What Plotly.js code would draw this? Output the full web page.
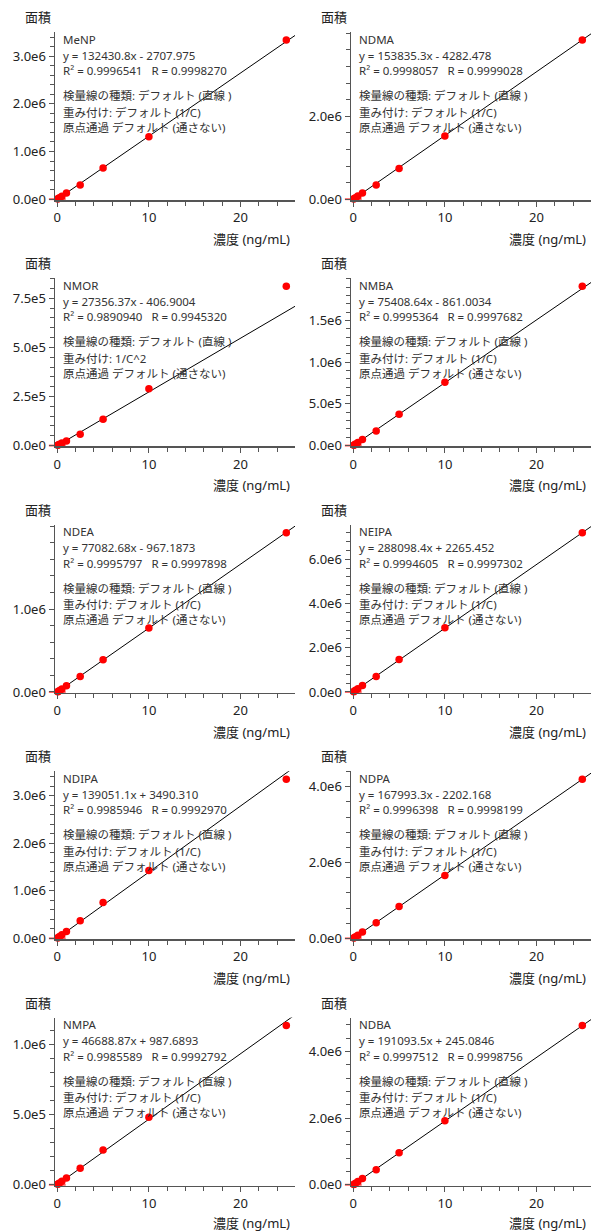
<!DOCTYPE html>
<html><head><meta charset="utf-8">
<script src="https://cdn.plot.ly/plotly-3.0.1.min.js"></script>
<style>body{margin:0;background:#fff}#chart{width:592px;height:1232px}</style>
</head><body><div id="chart"></div>
<script>
// ---- data ----
const conc = [0.05, 0.1, 0.25, 0.5, 1, 2.5, 5, 10, 25];
const compounds = ["MeNP","NDMA","NMOR","NMBA","NDEA","NEIPA","NDIPA","NDPA","NMPA","NDBA"];
const areaMeNP  = [5.5e3, 1.2e4, 3.1e4, 6.3e4, 1.28e5, 2.95e5, 6.53e5, 1.312e6, 3.34e6];
const areaNDMA  = [6.0e3, 1.4e4, 3.6e4, 7.4e4, 1.50e5, 3.39e5, 7.42e5, 1.524e6, 3.84e6];
const areaNMOR  = [1.2e3, 2.5e3, 6.5e3, 1.25e4, 2.3e4, 5.78e4, 1.34e5, 2.89e5, 8.11e5];
const areaNMBA  = [3.5e3, 7.0e3, 1.8e4, 3.6e4, 7.3e4, 1.75e5, 3.75e5, 7.60e5, 1.91e6];
const areaNDEA  = [3.5e3, 7.0e3, 1.8e4, 3.7e4, 7.5e4, 1.85e5, 3.90e5, 7.70e5, 1.92e6];
const areaNEIPA = [1.4e4, 2.9e4, 7.3e4, 1.45e5, 2.9e5, 7.0e5, 1.47e6, 2.90e6, 7.20e6];
const areaNDIPA = [1.0e4, 1.8e4, 3.9e4, 7.5e4, 1.45e5, 3.7e5, 7.53e5, 1.43e6, 3.35e6];
const areaNDPA  = [8.0e3, 1.6e4, 4.0e4, 8.2e4, 1.66e5, 4.1e5, 8.4e5, 1.66e6, 4.20e6];
const areaNMPA  = [3.0e3, 5.5e3, 1.3e4, 2.5e4, 4.9e4, 1.17e5, 2.48e5, 4.81e5, 1.136e6];
const areaNDBA  = [9.5e3, 1.9e4, 4.8e4, 9.6e4, 1.9e5, 4.5e5, 9.6e5, 1.92e6, 4.78e6];
const areas = [areaMeNP, areaNDMA, areaNMOR, areaNMBA, areaNDEA, areaNEIPA, areaNDIPA, areaNDPA, areaNMPA, areaNDBA];

const slopes     = [132430.8, 153835.3, 27356.37, 75408.64, 77082.68, 288098.4, 139051.1, 167993.3, 46688.87, 191093.5];
const intercepts = [-2707.975, -4282.478, -406.9004, -861.0034, -967.1873, 2265.452, 3490.310, -2202.168, 987.6893, 245.0846];
const equations  = ["y = 132430.8x - 2707.975","y = 153835.3x - 4282.478","y = 27356.37x - 406.9004","y = 75408.64x - 861.0034",
                    "y = 77082.68x - 967.1873","y = 288098.4x + 2265.452","y = 139051.1x + 3490.310","y = 167993.3x - 2202.168",
                    "y = 46688.87x + 987.6893","y = 191093.5x + 245.0846"];
const r2Values   = ["0.9996541","0.9998057","0.9890940","0.9995364","0.9995797","0.9994605","0.9985946","0.9996398","0.9985589","0.9997512"];
const rValues    = ["0.9998270","0.9999028","0.9945320","0.9997682","0.9997898","0.9997302","0.9992970","0.9998199","0.9992792","0.9998756"];
const weightings = ["デフォルト (1/C)","デフォルト (1/C)","1/C^2","デフォルト (1/C)","デフォルト (1/C)","デフォルト (1/C)","デフォルト (1/C)","デフォルト (1/C)","デフォルト (1/C)","デフォルト (1/C)"];
const curveType  = "検量線の種類: デフォルト (直線 )";
const originText = "原点通過 デフォルト (通さない)";

const yTickVals = [[0,1e6,2e6,3e6],[0,2e6],[0,2.5e5,5e5,7.5e5],[0,5e5,1e6,1.5e6],[0,1e6],
                   [0,2e6,4e6,6e6],[0,1e6,2e6,3e6],[0,2e6,4e6],[0,5e5,1e6],[0,2e6,4e6]];
const yTickText = [["0.0e0","1.0e6","2.0e6","3.0e6"],["0.0e0","2.0e6"],["0.0e0","2.5e5","5.0e5","7.5e5"],["0.0e0","5.0e5","1.0e6","1.5e6"],["0.0e0","1.0e6"],
                   ["0.0e0","2.0e6","4.0e6","6.0e6"],["0.0e0","1.0e6","2.0e6","3.0e6"],["0.0e0","2.0e6","4.0e6"],["0.0e0","5.0e5","1.0e6"],["0.0e0","2.0e6","4.0e6"]];
const xTickVals = [0, 10, 20];
const blankX = [0], blankY = [0];
const yTitle = "面積", xTitle = "濃度 (ng/mL)";

// ---- layout helpers ----
const W = 592, H = 1232;
const FONT = "Noto Sans, Noto Sans CJK JP, sans-serif";
const textColor = "#222", axisColor = "#555";
const colX = [[55, 295], [351, 591]];
const rowH = 246.4, plotTop = 32, plotBot = 200;
const xMax = 25.95, xMin = -0.25;

const traces = [];
const layout = {width: W, height: H, margin: {l:0, r:0, t:0, b:0}, showlegend: false,
  paper_bgcolor: "#fff", plot_bgcolor: "#fff", annotations: []};

compounds.forEach((name, i) => {
  const s = i === 0 ? "" : String(i + 1);
  const row = Math.floor(i / 2), col = i % 2;
  const xd = [colX[col][0] / W, colX[col][1] / W];
  const yd = [1 - (row * rowH + plotBot) / H, 1 - (row * rowH + plotTop) / H];
  const yMaxData = Math.max(...areas[i]);
  const yTop = yMaxData * 1.05;
  const yLow = -yTop * 0.005;
  const major = yTickVals[i][1];

  traces.push({x: [0, xMax + 1], y: [intercepts[i], slopes[i] * (xMax + 1) + intercepts[i]],
    xaxis: "x" + s, yaxis: "y" + s, mode: "lines", line: {color: "#000", width: 1}, hoverinfo: "skip"});
  traces.push({x: blankX, y: blankY, xaxis: "x" + s, yaxis: "y" + s, mode: "markers", cliponaxis: false,
    marker: {symbol: "line-ew", size: 12, line: {color: "rgba(255,60,60,0.8)", width: 2}}});
  traces.push({x: conc, y: areas[i], xaxis: "x" + s, yaxis: "y" + s, mode: "markers", cliponaxis: false,
    marker: {color: "#ff0000", size: 7.5}});

  const common = {showline: true, linecolor: axisColor, linewidth: 1.5, showgrid: false, zeroline: false,
    ticks: "outside", ticklen: 5, tickwidth: 1, tickcolor: axisColor,
    tickfont: {family: FONT, size: 13, color: textColor}};
  layout["xaxis" + s] = Object.assign({}, common, {domain: xd, anchor: "y" + s, range: [xMin, xMax],
    tickmode: "array", tickvals: xTickVals, ticktext: xTickVals.map(String),
    minor: {dtick: 2, tick0: 0, ticks: "outside", ticklen: 4, tickcolor: axisColor}});
  layout["yaxis" + s] = Object.assign({}, common, {domain: yd, anchor: "x" + s, range: [yLow, yTop],
    tickmode: "array", tickvals: yTickVals[i], ticktext: yTickText[i],
    minor: {dtick: major / 5, tick0: 0, ticks: "outside", ticklen: 3.5, tickcolor: axisColor}});

  const xr = "x" + s + " domain", yr = "y" + s + " domain";
  layout.annotations.push({xref: xr, yref: yr, x: 0, y: 1, xanchor: "right", yanchor: "middle",
    xshift: -2, yshift: 15, showarrow: false, text: yTitle, font: {family: FONT, size: 13, color: textColor}});
  layout.annotations.push({xref: xr, yref: yr, x: 1, y: 0, xanchor: "right", yanchor: "middle",
    xshift: -3, yshift: row === 4 ? -37 : -39, showarrow: false, text: xTitle, font: {family: FONT, size: 13, color: textColor}});

  const lines = [name, equations[i], "R² = " + r2Values[i] + "\u00a0\u00a0\u00a0R = " + rValues[i],
                 curveType, "重み付け: " + weightings[i], originText];
  const offs = [7, 23, 38.5, 63.5, 80, 95];
  lines.forEach((t, k) => {
    layout.annotations.push({xref: xr, yref: yr, x: 0, y: 1, xanchor: "left", yanchor: "middle",
      xshift: 6, yshift: -offs[k], showarrow: false, text: t, font: {family: FONT, size: 11.5, color: "#333"}});
  });
});

Plotly.newPlot("chart", traces, layout, {staticPlot: true});
</script>
</body></html>
